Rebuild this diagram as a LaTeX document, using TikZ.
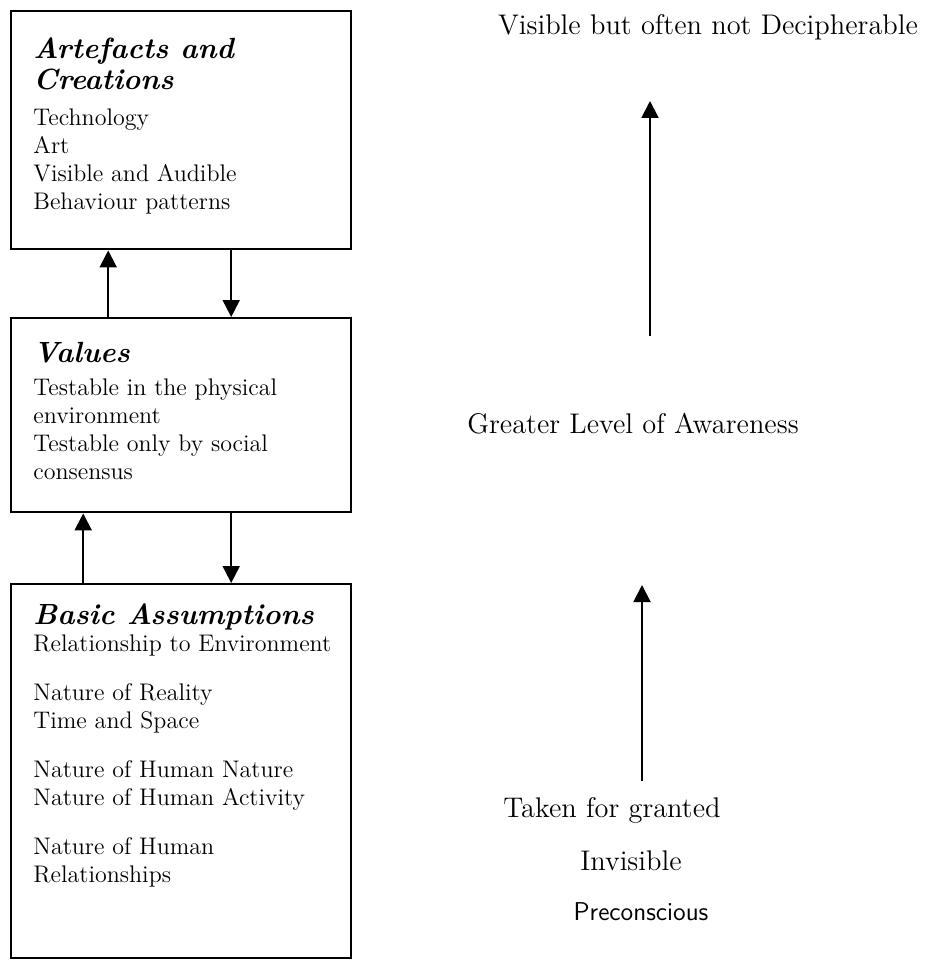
\documentclass[tikz,border=0pt]{standalone}
\usetikzlibrary{arrows.meta}
\begin{document}
\begin{tikzpicture}[x=0.5pt,y=-0.5pt]
\path[use as bounding box] (0,0) rectangle (928,968);
\tikzstyle{layer}=[draw=black, line width=1.2pt, anchor=north west, minimum width=170pt, inner sep=0pt]
\tikzstyle{head}=[anchor=north west, align=left, inner sep=0pt, font={\fontsize{14.6}{15.5}\selectfont\bfseries\itshape}]
\tikzstyle{body}=[anchor=north west, align=left, inner sep=0pt, font={\fontsize{12}{14}\selectfont}]
\tikzstyle{side}=[anchor=base, inner sep=0pt, font={\fontsize{14.2}{17}\selectfont}]
\tikzstyle{flow}=[-{Triangle[length=8.5pt,width=8.5pt]}, line width=1pt]

\node[layer, minimum height=119pt] (artefacts) at (10,10) {};
\node[head] (artefactshead) at ([shift={(11.5pt,-13.5pt)}]artefacts.north west) {Artefacts and\\Creations};
\node[body] (artefactslist) at ([shift={(11.5pt,-49.2pt)}]artefacts.north west) {Technology\\Art\\Visible and Audible\\Behaviour patterns};

\node[layer, minimum height=97pt] (values) at (10,317) {};
\node[head] (valueshead) at ([shift={(11.5pt,-12.5pt)}]values.north west) {Values};
\node[body] (valueslist) at ([shift={(11.5pt,-30.7pt)}]values.north west) {Testable in the physical\\environment\\Testable only by social\\consensus};

\node[layer, minimum height=187pt] (assumptions) at (10,583) {};
\node[head] (assumptionshead) at ([shift={(11.5pt,-10pt)}]assumptions.north west) {Basic Assumptions};
\node[body] (assumptionslist) at ([shift={(11.5pt,-25.7pt)}]assumptions.north west) {Relationship to Environment\\[10.5pt]Nature of Reality\\Time and Space\\[10.5pt]Nature of Human Nature\\Nature of Human Activity\\[10.5pt]Nature of Human\\Relationships};

\draw[flow] ([xshift=-36.5pt]values.north) -- ([xshift=-36.5pt]artefacts.south);
\draw[flow] ([xshift=25pt]artefacts.south) -- ([xshift=25pt]values.north);
\draw[flow] ([xshift=-49pt]assumptions.north) -- ([xshift=-49pt]values.south);
\draw[flow] ([xshift=25pt]values.south) -- ([xshift=25pt]assumptions.north);

\node[side] (decipher) at (708,35) {Visible but often not Decipherable};
\node[side] (awareness) at (633,433) {Greater Level of Awareness};
\node[side] (granted) at (612,817) {Taken for granted};
\node[side] (invisible) at (631,870) {Invisible};
\node[side, font={\sffamily\fontsize{12.9}{15}\selectfont}] (preconscious) at (641,920) {Preconscious};

\coordinate (upperfoot) at (650,336);
\coordinate (uppertip) at (650,101);
\draw[flow] (upperfoot) -- (uppertip);
\coordinate (lowerfoot) at (642,781);
\coordinate (lowertip) at (642,585);
\draw[flow] (lowerfoot) -- (lowertip);
\end{tikzpicture}
\end{document}
